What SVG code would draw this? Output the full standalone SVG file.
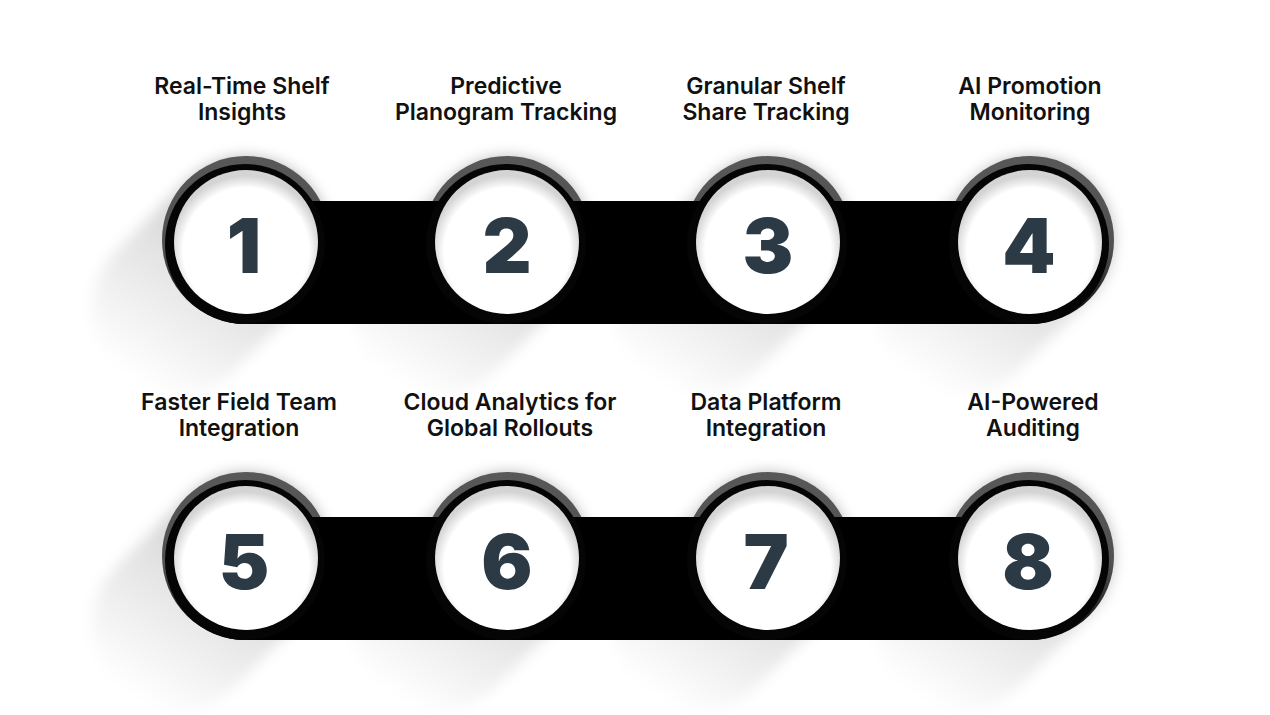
<svg xmlns="http://www.w3.org/2000/svg" width="1270" height="715" viewBox="0 0 1270 715">
  <defs>
    <linearGradient id="ringGrad" x1="0" y1="0" x2="0" y2="1">
      <stop offset="0" stop-color="#585858"/>
      <stop offset="0.55" stop-color="#505050"/>
      <stop offset="0.85" stop-color="#222"/>
      <stop offset="1" stop-color="#000"/>
    </linearGradient>
    <radialGradient id="faceGrad" cx="50%" cy="56%" r="52%">
      <stop offset="0.84" stop-color="#ffffff"/>
      <stop offset="1" stop-color="#d4d4d4"/>
    </radialGradient>
    <linearGradient id="shadowGrad" x1="0.75" y1="0.1" x2="0.2" y2="0.95">
      <stop offset="0" stop-color="#000" stop-opacity="0.26"/>
      <stop offset="0.45" stop-color="#000" stop-opacity="0.12"/>
      <stop offset="1" stop-color="#000" stop-opacity="0"/>
    </linearGradient>
    <filter id="blur" x="-30%" y="-30%" width="160%" height="160%">
      <feGaussianBlur stdDeviation="7"/>
    </filter>
    <path id="shadowShape" d="M59.4,59.4 A84,84 0 0 0 -59.4,-59.4 L-129.4,10.6 A84,84 0 0 0 -10.6,129.4 Z"/>
  </defs>
  <style>
    .ring { fill: url(#ringGrad); }
    .inner { fill: #050505; }
    .face { fill: url(#faceGrad); }
    .bar { fill: #000; }
    .num { font-family: Inter, "Liberation Sans", sans-serif; font-weight: 900; font-size: 76px; fill: #2b3a45; text-anchor: middle; }
    .lbl { font-family: Inter, "Liberation Sans", sans-serif; font-weight: 600; font-size: 23px; fill: #111; text-anchor: middle; }
    .shadow { fill: url(#shadowGrad); filter: url(#blur); }
  </style>
  <rect width="1270" height="715" fill="#fff"/>

  <!-- shadows -->
  <g id="shadows">
    <use href="#shadowShape" class="shadow" transform="translate(246,240)"/>
    <use href="#shadowShape" class="shadow" transform="translate(507,240)"/>
    <use href="#shadowShape" class="shadow" transform="translate(768,240)"/>
    <use href="#shadowShape" class="shadow" transform="translate(1030,240)"/>
    <use href="#shadowShape" class="shadow" transform="translate(246,556)"/>
    <use href="#shadowShape" class="shadow" transform="translate(507,556)"/>
    <use href="#shadowShape" class="shadow" transform="translate(768,556)"/>
    <use href="#shadowShape" class="shadow" transform="translate(1030,556)"/>
  </g>

  <!-- outer rings -->
  <g id="rings">
    <circle class="ring" cx="246" cy="240" r="84"/>
    <circle class="ring" cx="507" cy="240" r="84"/>
    <circle class="ring" cx="768" cy="240" r="84"/>
    <circle class="ring" cx="1030" cy="240" r="84"/>
    <circle class="ring" cx="246" cy="556" r="84"/>
    <circle class="ring" cx="507" cy="556" r="84"/>
    <circle class="ring" cx="768" cy="556" r="84"/>
    <circle class="ring" cx="1030" cy="556" r="84"/>
  </g>

  <!-- connectors -->
  <g id="connectors">
    <rect class="bar" x="246" y="201" width="784" height="123"/>
    <rect class="bar" x="246" y="517" width="784" height="123"/>
  </g>

  <g id="node1">
    <circle class="inner" cx="245" cy="244" r="80"/>
    <circle class="face" cx="246" cy="242" r="72"/>
    <text class="num" x="244" y="272.5">1</text>
    <text class="lbl" x="242" y="94">Real-Time Shelf</text>
    <text class="lbl" x="242" y="120">Insights</text>
  </g>
  <g id="node2">
    <circle class="inner" cx="506" cy="244" r="80"/>
    <circle class="face" cx="507" cy="242" r="72"/>
    <text class="num" x="507" y="272.5">2</text>
    <text class="lbl" x="506" y="94">Predictive</text>
    <text class="lbl" x="506" y="120">Planogram Tracking</text>
  </g>
  <g id="node3">
    <circle class="inner" cx="767" cy="244" r="80"/>
    <circle class="face" cx="768" cy="242" r="72"/>
    <text class="num" x="768" y="272.5">3</text>
    <text class="lbl" x="766" y="94">Granular Shelf</text>
    <text class="lbl" x="766" y="120">Share Tracking</text>
  </g>
  <g id="node4">
    <circle class="inner" cx="1029" cy="244" r="80"/>
    <circle class="face" cx="1030" cy="242" r="72"/>
    <text class="num" x="1029" y="272.5">4</text>
    <text class="lbl" x="1030" y="94">AI Promotion</text>
    <text class="lbl" x="1030" y="120">Monitoring</text>
  </g>
  <g id="node5">
    <circle class="inner" cx="245" cy="560" r="80"/>
    <circle class="face" cx="246" cy="558" r="72"/>
    <text class="num" x="244" y="588.5">5</text>
    <text class="lbl" x="239" y="410">Faster Field Team</text>
    <text class="lbl" x="239" y="436">Integration</text>
  </g>
  <g id="node6">
    <circle class="inner" cx="506" cy="560" r="80"/>
    <circle class="face" cx="507" cy="558" r="72"/>
    <text class="num" x="507" y="588.5">6</text>
    <text class="lbl" x="510" y="410">Cloud Analytics for</text>
    <text class="lbl" x="510" y="436">Global Rollouts</text>
  </g>
  <g id="node7">
    <circle class="inner" cx="767" cy="560" r="80"/>
    <circle class="face" cx="768" cy="558" r="72"/>
    <text class="num" x="766" y="588.5">7</text>
    <text class="lbl" x="766" y="410">Data Platform</text>
    <text class="lbl" x="766" y="436">Integration</text>
  </g>
  <g id="node8">
    <circle class="inner" cx="1029" cy="560" r="80"/>
    <circle class="face" cx="1030" cy="558" r="72"/>
    <text class="num" x="1028" y="588.5">8</text>
    <text class="lbl" x="1033" y="410">AI-Powered</text>
    <text class="lbl" x="1033" y="436">Auditing</text>
  </g>
</svg>
